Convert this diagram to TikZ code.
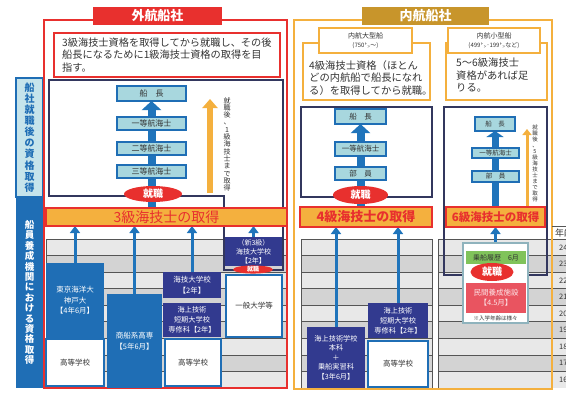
\documentclass[tikz,border=0pt]{standalone}
\usepackage{fontspec}
\setmainfont{Noto Sans CJK JP}
\usetikzlibrary{arrows.meta,shapes.geometric}
\definecolor{redc}{HTML}{E8302E}
\definecolor{orangefill}{HTML}{F4B03E}
\definecolor{goldc}{HTML}{C8952B}
\definecolor{framenavy}{HTML}{33375E}
\definecolor{schoolnavy}{HTML}{323A8F}
\definecolor{blueb}{HTML}{1F6EB5}
\definecolor{arrowblue}{HTML}{1F74BB}
\definecolor{cyanfill}{HTML}{A8D7DE}
\definecolor{lblfill}{HTML}{C6E4EB}
\definecolor{rowA}{HTML}{E8E8E8}
\definecolor{rowB}{HTML}{D3D3D3}
\definecolor{rowline}{HTML}{555555}
\definecolor{textgray}{HTML}{333333}
\definecolor{greenc}{HTML}{80C35A}
\definecolor{coral}{HTML}{E95460}
\definecolor{paleframe}{HTML}{8FB3BD}
\pgfdeclarelayer{back}
\pgfsetlayers{back,main}
\tikzset{
  rect/.style n args={4}{rectangle, inner sep=0pt, outer sep=0pt,
     minimum width={(#3-#1)*1pt}, minimum height={(#4-#2)*1pt},
     at={({(#1+#3)/2},{(#2+#4)/2})}},
  rank/.style={draw=blueb, line width=1.3pt, fill=cyanfill, text=textgray, font=\fontsize{8}{9}\selectfont},
  rankS/.style={rank, line width=1.1pt, font=\fontsize{6.5}{7}\selectfont},
  school/.style={fill=blueb, text=white, align=center, font=\fontsize{7.5}{10.5}\selectfont},
  navyschool/.style={school, fill=schoolnavy},
  hsbox/.style={draw=blueb, line width=1.2pt, fill=white, text=textgray, font=\fontsize{7.5}{9}\selectfont},
  jobell/.style={ellipse, fill=redc, text=white, inner sep=0pt, font=\bfseries\fontsize{10}{10}\selectfont},
  getbar/.style={draw=redc, line width=1.6pt, fill=orangefill, text=redc},
  careerarrow/.style={draw=arrowblue, line width=8pt, -{Triangle[length=9pt,width=19pt]}},
  schoolarrow/.style={draw=arrowblue, line width=3pt, -{Triangle[length=7pt,width=10pt]}},
  orangearrow/.style={draw=orangefill, line width=6pt, -{Triangle[length=9pt,width=15pt]}},
  desctext/.style={anchor=north west, align=left, inner sep=0pt, text=textgray},
  labelbox/.style={draw=orangefill, line width=1.8pt, fill=white, align=center, text=textgray},
  vtext/.style={align=center, inner sep=0pt, anchor=north, text=textgray},
  navyframe/.style={draw=framenavy, line width=1.5pt}
}
\begin{document}
\begin{tikzpicture}[x=1pt,y=-1pt]
\useasboundingbox (0,0) rectangle (566,392);
\clip (0,0) rectangle (566,392);

% ---------- background rows ----------
\begin{pgfonlayer}{back}
\foreach \xa/\xb in {46/286, 301/432, 438/566} {
  \foreach \i in {0,...,8} {
    \pgfmathsetmacro\ya{239+\i*16.56}
    \pgfmathsetmacro\yb{\ya+16.56}
    \pgfmathtruncatemacro\odd{mod(\i,2)}
    \ifnum\odd=0 \fill[rowA] (\xa,\ya) rectangle (\xb,\yb);
    \else \fill[rowB] (\xa,\ya) rectangle (\xb,\yb); \fi
    \draw[rowline, line width=0.8pt] (\xa,\ya) -- (\xb,\ya);
  }
  \draw[rowline, line width=0.8pt] (\xa,239) -- (\xa,388);
}
\draw[rowline, line width=0.8pt] (432,239) -- (432,388);
\end{pgfonlayer}

% ---------- left label column ----------
\node[rect={16}{78}{43}{197}, draw=blueb, line width=1.5pt, fill=lblfill] (lblUp) {};
\node[vtext, anchor=center, text=blueb, font=\bfseries\fontsize{10}{11.1}\selectfont] (lblUpT) at (lblUp.center) {船\\社\\就\\職\\後\\の\\資\\格\\取\\得};
\node[rect={15.5}{197}{43.5}{388}, fill=blueb] (lblLo) {};
\node[vtext, anchor=center, text=white, font=\bfseries\fontsize{9.5}{10.4}\selectfont] (lblLoT) at (lblLo.center) {船\\員\\養\\成\\機\\関\\に\\お\\け\\る\\資\\格\\取\\得};

% ---------- 外航船社 ----------
\draw[redc, line width=1.8pt] (44,20) rectangle (287,388);
\node[rect={93}{7}{222}{25}, fill=redc, text=white, font=\bfseries\fontsize{13}{13}\selectfont] (titleG) {外航船社};
\node[rect={54}{33}{280}{77}, draw=redc, line width=1.8pt, fill=white] (descG) {};
\node[desctext, font=\fontsize{10.2}{12.5}\selectfont] (descGt) at (62,37.5) {3級海技士資格を取得してから就職し、その後\\船長になるために1級海技士資格の取得を目\\指す。};
\draw[navyframe] (49,80) -- (283,80) -- (283,270) -- (224,270) -- (224,196) -- (49,196) -- cycle;
\node[rank, rect={117}{86}{186}{101}] (captG) {船　長};
\node[rank, rect={117}{117}{186}{130}] (firstG) {一等航海士};
\node[rank, rect={117}{142}{186}{155}] (secondG) {二等航海士};
\node[rank, rect={117}{165}{186}{178}] (thirdG) {三等航海士};
\node[jobell, minimum width=58pt, minimum height=16pt] (jobG) at (153,194) {就職};
\coordinate (oaG1) at (210,193);
\coordinate (oaG2) at (210,99);
\draw[orangearrow] (oaG1) -- (oaG2);
\node[vtext, font=\fontsize{7}{7.3}\selectfont] (vtG) at (227,97) {就\\職\\後\\、\\1\\級\\海\\技\\士\\ま\\で\\取\\得};
\node[getbar, rect={46}{208}{287}{226}, font=\fontsize{14}{14}\selectfont] (bar3) {3級海技士の取得};

\node[school, rect={46}{263}{104}{338}] (tokyo) {東京海洋大\\神戸大\\【4年6月】};
\node[hsbox, rect={46}{339}{104}{386}] (hs1) {高等学校};
\node[school, rect={107}{294}{162}{388}] (kosen) {商船系高専\\【5年6月】};
\node[navyschool, rect={163}{272}{221}{298}] (kaidai) {海技大学校\\【2年】};
\node[navyschool, rect={163}{303}{221}{337}, font=\fontsize{7.2}{10}\selectfont] (tandai1) {海上技術\\短期大学校\\専修科【2年】};
\node[hsbox, rect={165}{339}{221}{386}] (hs2) {高等学校};
\node[navyschool, rect={225}{237}{282}{266}, font=\fontsize{7}{9}\selectfont] (shin3) {（新3級）\\海技大学校\\【2年】};
\node[jobell, minimum width=40pt, minimum height=8pt, font=\bfseries\fontsize{6}{6}\selectfont] (jobG2) at (253,269.5) {就職};
\node[hsbox, rect={226}{275}{282}{337}] (ippan) {一般大学等};

% ---------- 内航船社 ----------
\draw[orangefill, line width=2pt] (294,20) rectangle (552,389);
\node[rect={362}{7}{489}{25}, fill=goldc, text=white, font=\bfseries\fontsize{13}{13}\selectfont] (titleN) {内航船社};

\node[rect={303}{43}{430}{100}, draw=orangefill, line width=1.8pt, fill=white] (descL) {};
\node[desctext, font=\fontsize{10.3}{12.5}\selectfont] (descLt) at (309,60) {4級海技士資格（ほとん\\どの内航船で船長になれ\\る）を取得してから就職。};
\node[labelbox, rect={319}{28}{412}{53}, font=\fontsize{7}{9}\selectfont] (labelL) {内航大型船\\{\fontsize{6}{6}\selectfont (750㌧～)}};

\node[rect={446}{43}{547}{100}, draw=orangefill, line width=1.8pt, fill=white] (descS) {};
\node[desctext, font=\fontsize{10.3}{12.5}\selectfont] (descSt) at (456,58) {5～6級海技士\\資格があれば足\\りる。};
\node[labelbox, rect={448}{28}{540}{53}, font=\fontsize{7}{9}\selectfont] (labelS) {内航小型船\\{\fontsize{6}{6}\selectfont (499㌧･199㌧など)}};

\draw[navyframe] (301,107) rectangle (432,197);
\node[rank, rect={335}{109}{386}{124}, font=\fontsize{7.5}{8}\selectfont] (captL) {船　長};
\node[rank, rect={335}{142}{386}{156}, font=\fontsize{7.5}{8}\selectfont] (firstL) {一等航海士};
\node[rank, rect={335}{167}{386}{180}, font=\fontsize{7.5}{8}\selectfont] (buinL) {部　員};
\node[jobell, minimum width=55pt, minimum height=18pt] (jobL) at (360.5,195) {就職};
\node[getbar, rect={300}{207}{432}{227}, font=\bfseries\fontsize{13}{13}\selectfont] (bar4) {4級海技士の取得};

\node[navyschool, rect={307}{327}{365}{388}, font=\fontsize{7.2}{9.5}\selectfont] (honka) {海上技術学校\\本科\\＋\\乗船実習科\\【3年6月】};
\node[navyschool, rect={368}{303}{428}{338}, font=\fontsize{7.2}{10}\selectfont] (tandai2) {海上技術\\短期大学校\\専修科【2年】};
\node[hsbox, rect={368}{341}{428}{387}] (hs3) {高等学校};

\draw[navyframe] (444,107) rectangle (547,275);
\node[rankS, rect={475}{117}{515}{131}] (captS) {船　長};
\node[rankS, rect={472}{148}{519}{158}] (firstS) {一等航海士};
\node[rankS, rect={472}{171}{519}{182}] (buinS) {部　員};
\coordinate (oaS1) at (527,206);
\coordinate (oaS2) at (527,129);
\draw[draw=orangefill, line width=3pt, -{Triangle[length=6pt,width=9pt]}] (oaS1) -- (oaS2);
\node[vtext, font=\fontsize{5.5}{6}\selectfont] (vtS) at (535,125) {就\\職\\後\\、\\5\\級\\海\\技\\士\\ま\\で\\取\\得};
\node[getbar, rect={446}{207}{545}{227}, font=\bfseries\fontsize{11.5}{11.5}\selectfont] (bar6) {6級海技士の取得};

\node[rect={463}{243}{528}{323}, draw=paleframe, line width=1.3pt, fill=white] (frameS) {};
\node[rect={466}{251}{526}{264}, fill=greenc, text=textgray, font=\fontsize{7}{7}\selectfont] (green) {乗船履歴　6月};
\node[rect={466}{283}{526}{313}, fill=coral, text=white!85!coral, align=center, font=\fontsize{7.5}{10}\selectfont] (minkan) {民間養成施設\\【4.5月】};
\node[jobell, minimum width=43pt, minimum height=18pt] (jobS) at (492,272) {就職};
\node[inner sep=0pt, text=textgray, font=\fontsize{5.5}{6}\selectfont] (note) at (495.5,318) {※入学年齢は様々};

% ---------- age column ----------
\draw[rowline, line width=0.8pt] (552,226) -- (566,226);
\node[anchor=west, inner sep=0pt, text=textgray, font=\fontsize{9}{9}\selectfont] (ageH) at (555,233) {年齢};
\foreach \a [count=\k from 0] in {24,23,22,21,20,19,18,17,16} {
  \node[anchor=west, inner sep=0pt, text=textgray, font=\fontsize{7.5}{7.5}\selectfont] (age\a) at (559,247.3+\k*16.56) {\a};
}

% ---------- arrows (behind boxes) ----------
\begin{pgfonlayer}{back}
\draw[careerarrow] (captG.south |- bar3.north) -- (captG.south);
\draw[careerarrow] (captL.south |- bar4.north) -- (captL.south);
\draw[draw=arrowblue, line width=7pt, -{Triangle[length=6pt,width=17pt]}] (captS.south |- bar6.north) -- (captS.south);
\draw[schoolarrow] (tokyo.north) -- (tokyo.north |- bar3.south);
\draw[schoolarrow] (kosen.north) -- (kosen.north |- bar3.south);
\draw[schoolarrow] (kaidai.north) -- (kaidai.north |- bar3.south);
\draw[schoolarrow] (shin3.north) -- (shin3.north |- bar3.south);
\draw[schoolarrow] (honka.north) -- (honka.north |- bar4.south);
\draw[schoolarrow] (tandai2.north) -- (tandai2.north |- bar4.south);
\draw[schoolarrow] (frameS.north) -- (frameS.north |- bar6.south);
\end{pgfonlayer}
\end{tikzpicture}
\end{document}
